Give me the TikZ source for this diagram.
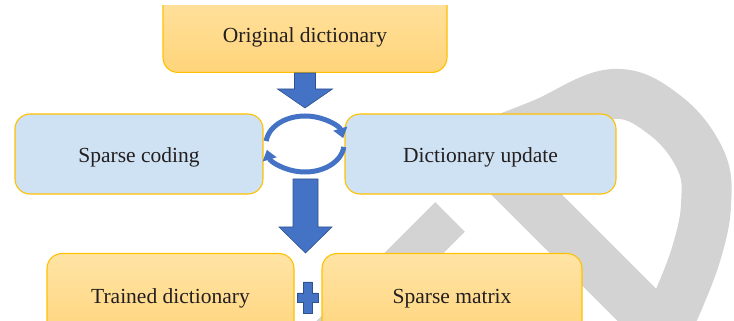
\documentclass[tikz,border=0pt]{standalone}
\usepackage{fontspec}
\setmainfont{Liberation Serif}
\usetikzlibrary{arrows.meta}
\definecolor{boxgold}{RGB}{255,192,0}
\definecolor{yelltop}{RGB}{255,228,165}
\definecolor{yellbot}{RGB}{255,212,122}
\definecolor{boxblue}{RGB}{207,226,243}
\definecolor{arrblue}{RGB}{68,114,196}
\definecolor{arredge}{RGB}{47,82,143}
\definecolor{wmgray}{RGB}{211,211,211}
\definecolor{txtcol}{RGB}{35,31,32}

\begin{document}
\begin{tikzpicture}[x=1pt, y=1pt,
    flowbox/.style={draw=boxgold, line width=1.1pt, rounded corners=15pt, inner xsep=0pt, inner ysep=0pt,
        text=txtcol, font=\fontsize{21.5}{24}\selectfont},
    ybox/.style={flowbox, top color=yelltop, bottom color=yellbot},
    bbox/.style={flowbox, fill=boxblue, text height=22pt, text depth=4pt, minimum height=80pt},
    barrow/.style={fill=arrblue, draw=arredge, line width=0.6pt},
    cycarrow/.style={draw=arrblue, line width=5pt, -{Triangle[width=14pt, length=10pt]}},
    wmark/.style={draw=wmgray, line width=50pt, line join=round}]
        \useasboundingbox (0,0) rectangle (734,321);
        \clip (0,0) rectangle (734,315);
        % watermark
        \draw[wmgray, line width=42pt] (450,104) -- (290,-56);
        \draw[wmark] (667,-14) -- (480,173) -- plot[smooth, tension=0.65] coordinates
            {(480,173) (542,197) (613,227) (666,205) (701,160) (706,116) (697,70) (679,22) (662,-14)};
        % boxes
        \node[ybox, minimum width=284pt, text height=60pt, text depth=30pt, anchor=south] (orig) at (305,248) {Original dictionary};
        \node[bbox, minimum width=248pt] (coding) at (139,167) {Sparse coding};
        \node[bbox, minimum width=271pt] (update) at (480.5,167) {Dictionary update};
        \node[ybox, minimum width=247pt, text height=50pt, text depth=40pt, anchor=north] (trained) at (170.5,68) {Trained dictionary};
        \node[ybox, minimum width=260pt, text height=50pt, text depth=40pt, anchor=north] (sparse) at (452,68) {Sparse matrix};
        % block arrows
        \draw[barrow] (294.5,248) -- (294.5,232) -- (277.5,232) -- (305,213)
            -- (332.5,232) -- (315.5,232) -- (315.5,248) -- cycle;
        \draw[barrow] (293,142) -- (293,94) -- (279,94) -- (305.5,68)
            -- (332,94) -- (318,94) -- (318,142) -- cycle;
        % loop between coding and update
        \coordinate (loop) at (305,177);
        \draw[cycarrow] ([shift={(174:39pt and 28pt)}]loop) arc[start angle=174, end angle=12, x radius=39pt, y radius=28pt];
        \draw[cycarrow] ([shift={(-6:39pt and 28pt)}]loop) arc[start angle=-6, end angle=-168, x radius=39pt, y radius=28pt];
        % plus
        \draw[barrow] (303,39) -- (312,39) -- (312,28) -- (318,28) -- (318,19) -- (312,19)
            -- (312,8) -- (303,8) -- (303,19) -- (297,19) -- (297,28) -- (303,28) -- cycle;
\end{tikzpicture}
\end{document}
